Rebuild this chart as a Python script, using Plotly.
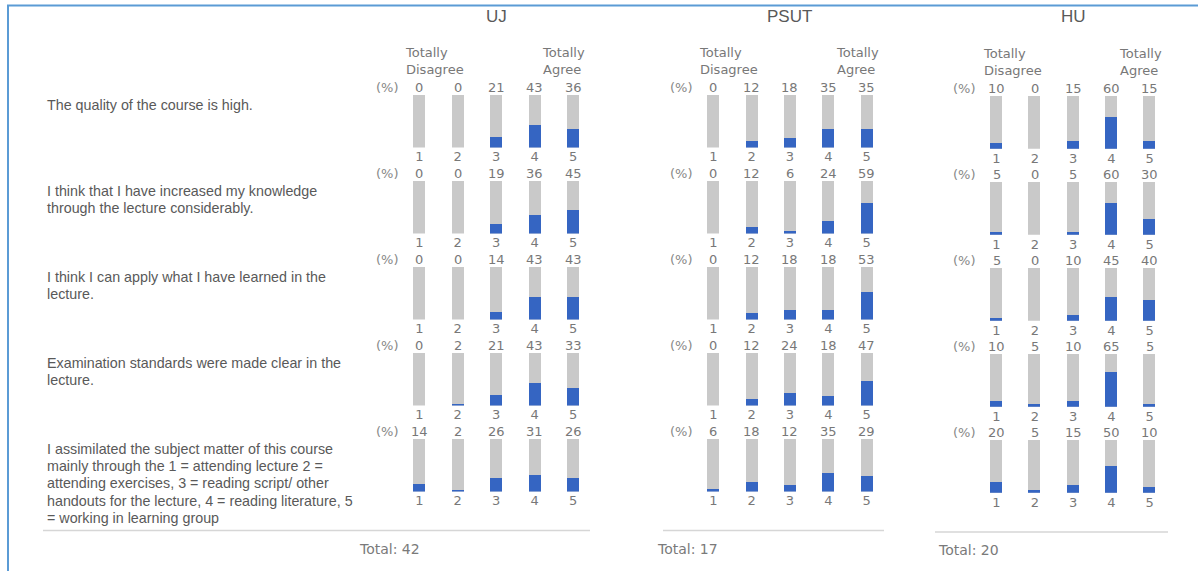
import plotly.graph_objects as go

# ---------------- data ----------------
universities = ["UJ", "PSUT", "HU"]
totals = [42, 17, 20]
scale_labels = ["1", "2", "3", "4", "5"]
questions = [
    ["The quality of the course is high."],
    ["I think that I have increased my knowledge",
     "through the lecture considerably."],
    ["I think I can apply what I have learned in the",
     "lecture."],
    ["Examination standards were made clear in the",
     "lecture."],
    ["I assimilated the subject matter of this course",
     "mainly through the 1 = attending lecture 2 =",
     "attending exercises, 3 = reading script/ other",
     "handouts for the lecture, 4 = reading literature, 5",
     "= working in learning group"],
]
uj_pct = [
    [0, 0, 21, 43, 36],
    [0, 0, 19, 36, 45],
    [0, 0, 14, 43, 43],
    [0, 2, 21, 43, 33],
    [14, 2, 26, 31, 26],
]
psut_pct = [
    [0, 12, 18, 35, 35],
    [0, 12, 6, 24, 59],
    [0, 12, 18, 18, 53],
    [0, 12, 24, 18, 47],
    [6, 18, 12, 35, 29],
]
hu_pct = [
    [10, 0, 15, 60, 15],
    [5, 0, 5, 60, 30],
    [5, 0, 10, 45, 40],
    [10, 5, 10, 65, 5],
    [20, 5, 15, 50, 10],
]
all_pct = [uj_pct, psut_pct, hu_pct]
low_label = "Totally<br>Disagree"
high_label = "Totally<br>Agree"
unit_label = "(%)"

# ---------------- layout constants (pixels) ----------------
W, H = 1198, 571
col_b1 = [419.3, 713.3, 996.5]
col_step = [38.45, 38.35, 38.3]
col_dy = [0.0, 0.0, 1.3]
row_top0 = 94.7
row_step = 86.0
bar_h = 52.7
bar_px = 12.0
q_line_h = 17.2

GRAY = "#c9c9c9"
BLUE = "#3565c2"
LBL = "#787878"
TXT = "#595959"
SMALL_FONT = "DejaVu Sans"


def px_x(v):
    return v / W


def px_y(v):
    return 1 - v / H


fig = go.Figure()
layout_axes = {}
annotations = []
n = len(scale_labels)

for c, uni in enumerate(universities):
    s = col_step[c]
    b1 = col_b1[c]
    x0 = b1 - 0.5 * s
    x1 = b1 + (n - 0.5) * s
    for r in range(len(questions)):
        k = r * 3 + c + 1
        xa = "x" if k == 1 else f"x{k}"
        ya = "y" if k == 1 else f"y{k}"
        top = row_top0 + r * row_step + col_dy[c]
        bot = top + bar_h
        vals = all_pct[c][r]
        fig.add_trace(go.Bar(
            x=scale_labels, y=[100] * n, width=bar_px / s,
            marker=dict(color=GRAY, line=dict(width=0)),
            xaxis=xa, yaxis=ya, showlegend=False, hoverinfo="skip"))
        fig.add_trace(go.Bar(
            x=scale_labels, y=vals, width=bar_px / s,
            marker=dict(color=BLUE, line=dict(width=0)),
            xaxis=xa, yaxis=ya, showlegend=False, hoverinfo="skip"))
        xname = "xaxis" if k == 1 else f"xaxis{k}"
        yname = "yaxis" if k == 1 else f"yaxis{k}"
        layout_axes[xname] = dict(
            domain=[px_x(x0), px_x(x1)], anchor=ya, type="category",
            range=[-0.5, n - 0.5],
            showgrid=False, zeroline=False, showline=False, ticks="",
            tickfont=dict(family=SMALL_FONT, size=13, color=LBL), fixedrange=True)
        layout_axes[yname] = dict(
            domain=[px_y(bot), px_y(top)], anchor=xa, range=[0, 100],
            visible=False, fixedrange=True)
        for i, v in enumerate(vals):
            annotations.append(dict(
                x=i, y=100, xref=xa, yref=ya, text=str(v),
                showarrow=False, yanchor="middle", yshift=7.5,
                font=dict(family=SMALL_FONT, size=13, color=LBL)))
        annotations.append(dict(
            x=0, y=100, xref=xa, yref=ya, text=unit_label,
            showarrow=False, yanchor="middle", yshift=7.5, xshift=-32,
            font=dict(family=SMALL_FONT, size=13, color="#888888")))
        if r == 0:
            annotations.append(dict(
                x=0, y=px_y(60.5 + col_dy[c]), xref=xa, yref="paper",
                text=low_label, showarrow=False, xanchor="left", align="left",
                yanchor="middle", xshift=-16,
                font=dict(family=SMALL_FONT, size=13, color=LBL)))
            annotations.append(dict(
                x=n - 1, y=px_y(60.5 + col_dy[c]), xref=xa, yref="paper",
                text=high_label, showarrow=False, xanchor="left", align="left",
                yanchor="middle", xshift=-33,
                font=dict(family=SMALL_FONT, size=13, color=LBL)))
            annotations.append(dict(
                x=(n - 1) / 2, y=px_y(17), xref=xa, yref="paper",
                text=uni, showarrow=False, xanchor="center", yanchor="middle",
                font=dict(family="Liberation Sans", size=17, color=TXT)))

# question texts (one annotation per line)
for r, lines in enumerate(questions):
    for j, line in enumerate(lines):
        annotations.append(dict(
            x=px_x(45), y=px_y(105 + r * row_step + j * q_line_h),
            xref="paper", yref="paper",
            text=line, showarrow=False, xanchor="left", yanchor="middle", align="left",
            font=dict(family="Liberation Sans", size=14.3, color=TXT)))

# separators + totals
sep_x0 = [43, 663, 935]
sep_x1 = [590, 884, 1168]
sep_y = [530.5, 530.5, 532]
tot_x = [357, 655, 936]
tot_y = [548.5, 548.5, 550]
shapes = []
for c in range(len(universities)):
    shapes.append(dict(type="line", xref="paper", yref="paper",
                       x0=px_x(sep_x0[c]), x1=px_x(sep_x1[c]),
                       y0=px_y(sep_y[c]), y1=px_y(sep_y[c]),
                       line=dict(color="#d6d6d6", width=1.5)))
    annotations.append(dict(
        x=px_x(tot_x[c]), y=px_y(tot_y[c]), xref="paper", yref="paper",
        text=f"Total: {totals[c]}", showarrow=False, xanchor="left", yanchor="middle",
        font=dict(family=SMALL_FONT, size=14, color="#7a7a7a")))

# frame border (left and top)
shapes.append(dict(type="line", xref="paper", yref="paper",
                   x0=px_x(8), x1=px_x(8), y0=0, y1=px_y(5.5),
                   line=dict(color="#5b9bd5", width=2)))
shapes.append(dict(type="line", xref="paper", yref="paper",
                   x0=px_x(7), x1=1, y0=px_y(5.5), y1=px_y(5.5),
                   line=dict(color="#5b9bd5", width=2)))

fig.update_layout(
    width=W, height=H, margin=dict(l=0, r=0, t=0, b=0),
    paper_bgcolor="white", plot_bgcolor="white",
    barmode="overlay", bargap=0,
    annotations=annotations, shapes=shapes, **layout_axes)

fig.write_html("out.html", config={"displayModeBar": False},
               post_script="document.body.style.margin='0';document.body.style.overflow='hidden';")
